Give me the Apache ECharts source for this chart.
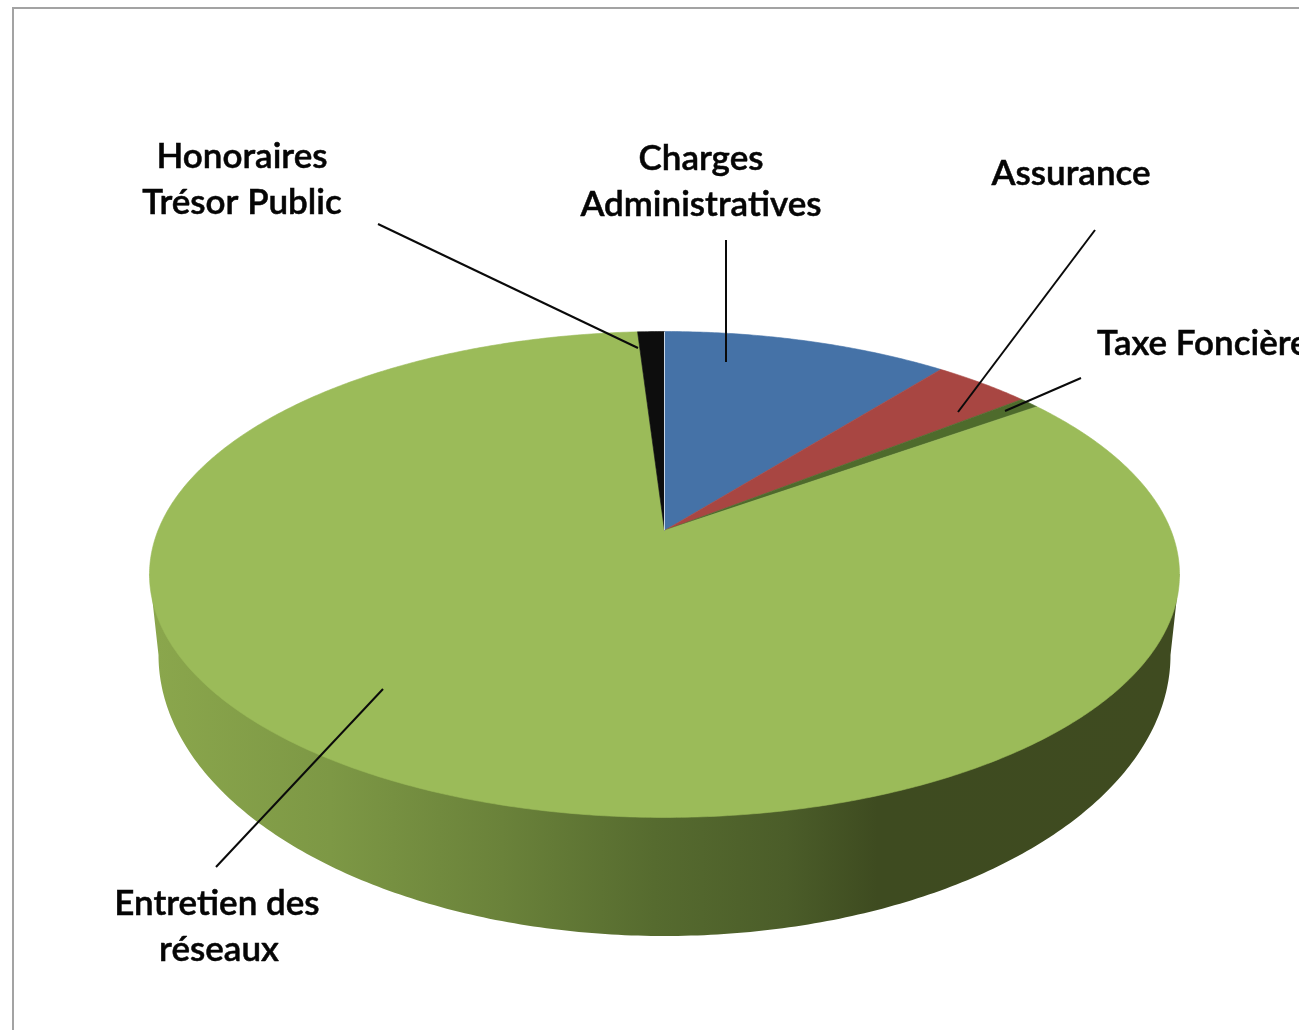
<!DOCTYPE html>
<html><head><meta charset="utf-8">
<style>html,body{margin:0;padding:0;background:#fff}#c{width:1299px;height:1030px}</style>
<script src="https://cdn.jsdelivr.net/npm/echarts@6/dist/echarts.min.js"></script>
</head><body><div id="c"></div>
<script>
// Data (share of total, %, read clockwise from the top of the pie)
const categories = ['Charges Administratives','Assurance','Taxe Foncière','Entretien des réseaux','Honoraires Trésor Public'];
const shares = [10.7, 3.65, 0.75, 83.9, 1.0];
const sliceColors = ['#4572a7','#a84642','#4e6b2c','#9bbb59','#0d0d0d'];

// Perspective projection of the disc
const APEX = [664.5, 530.5], RX = 506.5, RY = 235, K = 0.181;
const BOTTOM = {cx: 664.5, cy: 655, rx: 506, ry: 281};
const total = shares.reduce((a, b) => a + b, 0);
function project(theta) {
  const u = Math.sin(theta), v = Math.cos(theta), w = 1 + K * v;
  return [APEX[0] + RX * u / w, APEX[1] - RY * v / w];
}
function sliceElement(params, api) {
  const idx = params.dataIndex;
  let before = 0;
  for (let i = 0; i < idx; i++) before += shares[i];
  const a0 = before / total * 2 * Math.PI;
  const a1 = (before + api.value(1)) / total * 2 * Math.PI;
  const n = Math.max(2, Math.ceil((a1 - a0) * 120));
  const pts = [APEX.slice()];
  for (let i = 0; i <= n; i++) pts.push(project(a0 + (a1 - a0) * i / n));
  const children = [{type: 'polygon', shape: {points: pts},
    style: {fill: sliceColors[idx], stroke: sliceColors[idx], lineWidth: 0.6}}];
  if (idx === 0) {
    const top = project(a0);
    children.push({type: 'line', z2: 5, shape: {x1: APEX[0], y1: APEX[1], x2: top[0], y2: top[1]},
      style: {stroke: '#c9d6e6', lineWidth: 1}});
  }
  return {type: 'group', children};
}
function wallElement() {
  const pts = [[149.5, 574]];
  for (let i = 0; i <= 240; i++) {
    const t = Math.PI - Math.PI * i / 240;
    pts.push([BOTTOM.cx + BOTTOM.rx * Math.cos(t), BOTTOM.cy + BOTTOM.ry * Math.sin(t)]);
  }
  pts.push([1179.5, 574]);
  return {type: 'polygon', shape: {points: pts}, style: {
    fill: new echarts.graphic.LinearGradient(158, 0, 1171, 0, [
      {offset: 0, color: '#8aa64c'}, {offset: 0.17, color: '#7d9845'},
      {offset: 0.34, color: '#6a823a'}, {offset: 0.49, color: '#566b2f'},
      {offset: 0.62, color: '#4b5d29'}, {offset: 0.71, color: '#3e4b20'},
      {offset: 1, color: '#3f4b20'}], true)}};
}

const font = 'Lato';
const labels = [
  {t: 'Honoraires', x: 242, y: 157, a: 'center'},
  {t: 'Trésor Public', x: 242, y: 203, a: 'center'},
  {t: 'Charges', x: 701, y: 159, a: 'center'},
  {t: 'Administratives', x: 701, y: 205, a: 'center'},
  {t: 'Assurance', x: 1071, y: 174, a: 'center'},
  {t: 'Taxe Foncière', x: 1097, y: 344, a: 'left'},
  {t: 'Entretien des', x: 217, y: 904, a: 'center'},
  {t: 'réseaux', x: 219, y: 950, a: 'center'}
];
const leaders = [
  [378, 224, 638, 348], [726, 240, 726, 362], [1095, 230, 958, 412],
  [1081, 378, 1005, 411], [383, 689, 216, 867]
];
const graphics = [
  {type: 'polyline', z: 1, shape: {points: [[13, 1030], [13, 8], [1299, 8]]},
   style: {stroke: '#a3a3a3', lineWidth: 2, fill: null}}
];
leaders.forEach(l => graphics.push({type: 'line', z: 20,
  shape: {x1: l[0], y1: l[1], x2: l[2], y2: l[3]},
  style: {stroke: '#0a0a0a', lineWidth: 2}}));
labels.forEach(l => graphics.push({type: 'text', z: 20, x: l.x, y: l.y,
  style: {text: l.t, font: '600 35px ' + font, fill: '#050505', align: l.a, verticalAlign: 'middle',
          stroke: '#050505', lineWidth: 0.5}}));

const chart = echarts.init(document.getElementById('c'), null, {renderer: 'canvas'});
chart.setOption({
  animation: false,
  backgroundColor: '#fff',
  tooltip: {show: false},
  graphic: graphics,
  series: [
    {type: 'custom', coordinateSystem: 'none', silent: true, z: 2, data: [[0]], renderItem: wallElement},
    {type: 'custom', coordinateSystem: 'none', silent: true, z: 3,
     encode: {value: 1},
     data: categories.map((c, i) => [c, shares[i]]), renderItem: sliceElement}
  ]
});
</script></body></html>
